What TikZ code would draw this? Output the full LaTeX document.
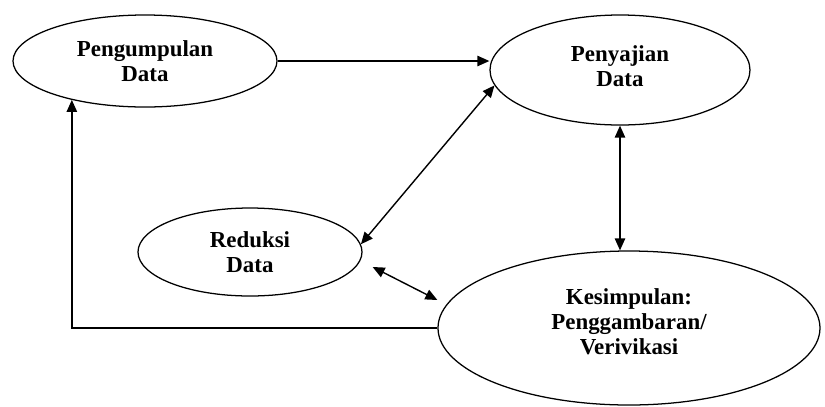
\documentclass[tikz,border=0pt]{standalone}
\usepackage{fontspec}
\setmainfont{Liberation Serif}
\usetikzlibrary{shapes.geometric,arrows.meta}
\begin{document}
\begin{tikzpicture}[
  tahap/.style={draw,ellipse,line width=0.9pt,inner sep=0pt,align=center,
    font=\fontsize{16.3}{17.8}\selectfont\bfseries},
  panah/.style={line width=1pt,-{Triangle[length=0.3cm,width=0.26cm]}},
  panah2/.style={line width=1pt,{Triangle[length=0.3cm,width=0.26cm]}-{Triangle[length=0.3cm,width=0.26cm]}}]
  \useasboundingbox(0,0)rectangle(20.625,-10.15);
  \node[tahap,minimum width=6.6cm,minimum height=2.3cm](peng)at(3.625,-1.525){Pengumpulan\\Data};
  \node[tahap,minimum width=6.5cm,minimum height=2.75cm,text depth=0.2cm](peny)at(15.5,-1.75){Penyajian\\Data};
  \node[tahap,minimum width=5.6cm,minimum height=2.2cm](red)at(6.25,-6.3){Reduksi\\Data};
  \node[tahap,minimum width=9.55cm,minimum height=3.85cm,text depth=0.3cm](kes)at(15.725,-8.2){Kesimpulan:\\Penggambaran/\\Verivikasi};
  \draw[panah](peng.east)--(peng.east-|peny.west);
  \draw[panah](kes.west)-|(peng.208);
  \draw[panah2](red.4)--(peny.187);
  \draw[panah2](peny.south)--(peny.south|-kes.north);
  \draw[panah2]([shift={(0.25,-0.375)}]red.east)--([shift={(0,0.7)}]kes.west);
\end{tikzpicture}
\end{document}
